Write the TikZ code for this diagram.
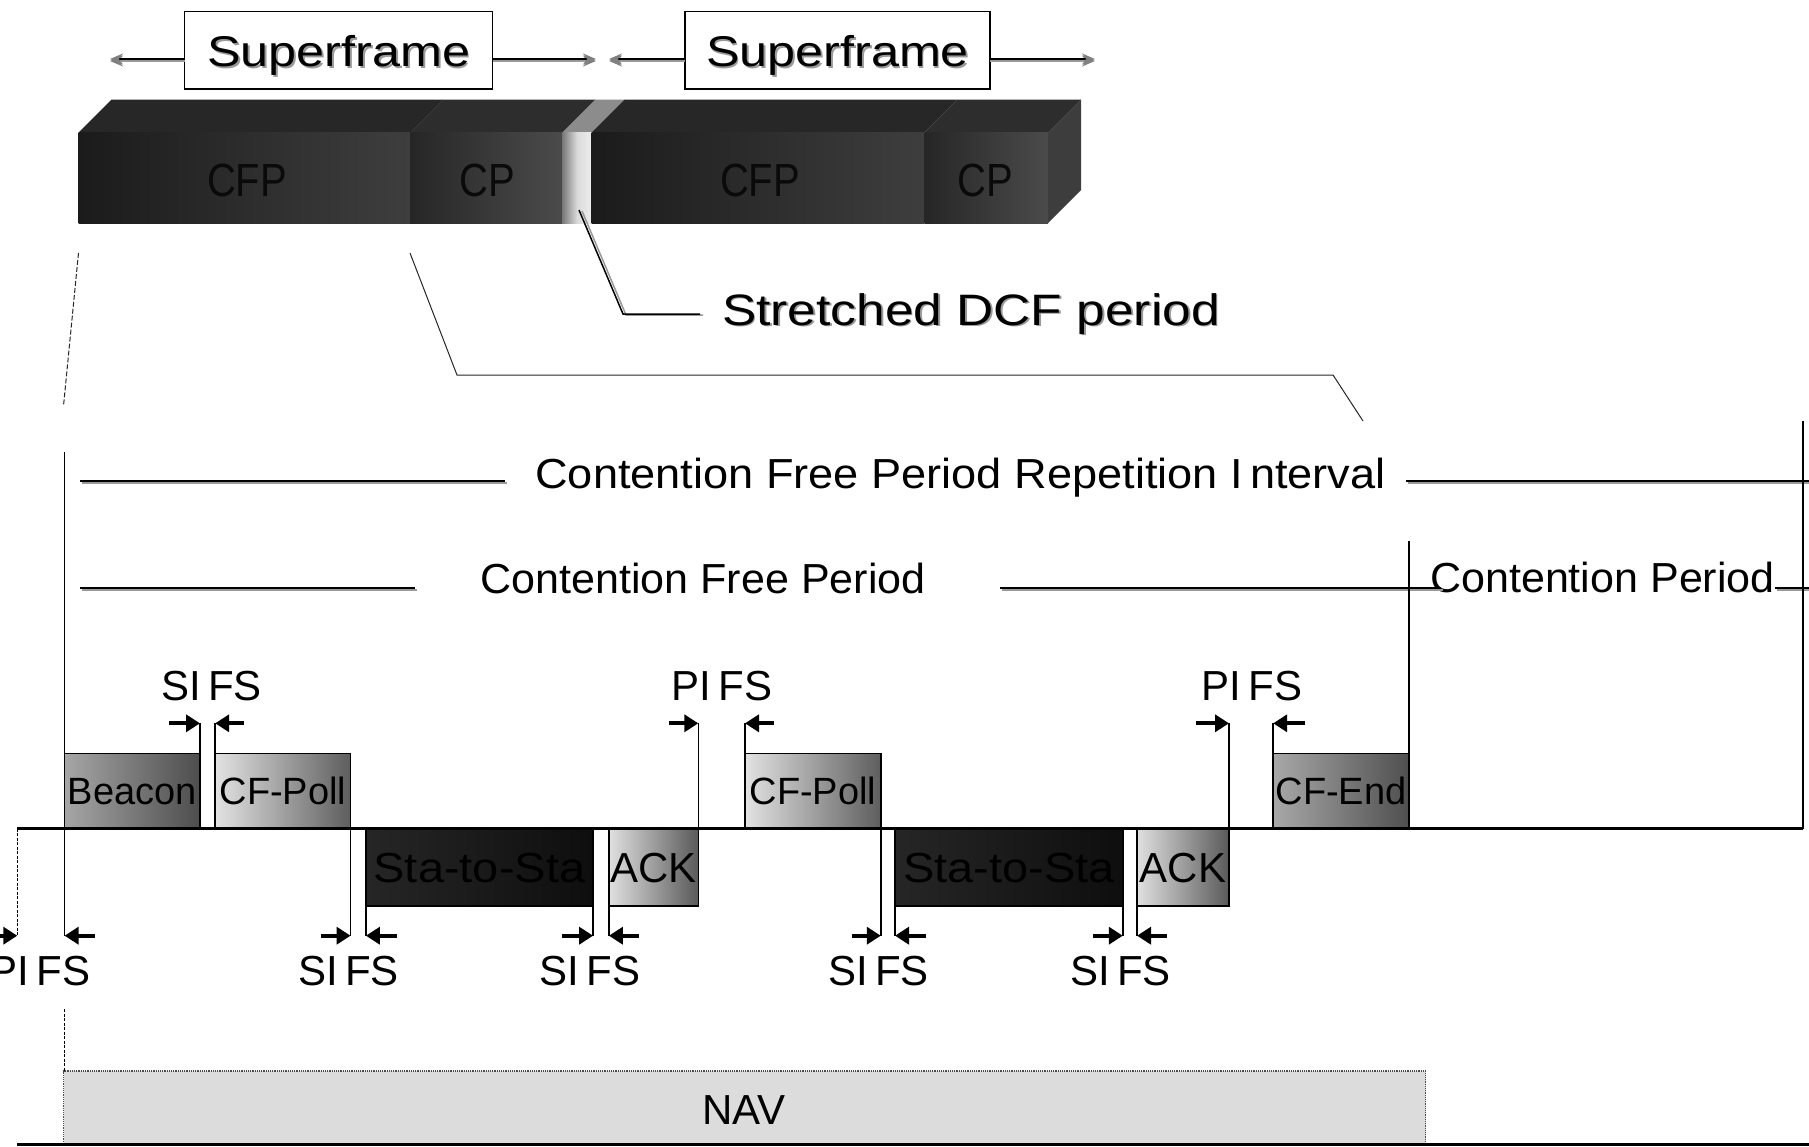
\documentclass[tikz,border=0pt]{standalone}
\usepackage{fontspec}
\setmainfont{Liberation Sans}
\newfontfamily\topfont{Liberation Sans}[FakeStretch=1.17]
\newfontfamily\blkfont{Liberation Sans}[FakeStretch=0.86]
\newfontfamily\widefont{Liberation Sans}[FakeStretch=1.12]
\newfontfamily\lblwide{Liberation Sans}[FakeStretch=1.075]
\newfontfamily\lblmid{Liberation Sans}[FakeStretch=1.025]
\usetikzlibrary{arrows.meta}
% the wide gap that follows a capital I in the labels
\newcommand\Igap{\kern7pt}

\definecolor{barTopA}{HTML}{272727}
\definecolor{barTopB}{HTML}{2D2D2D}
\definecolor{barGapTop}{HTML}{8C8C8C}
\definecolor{barSide}{HTML}{3D3D3D}
\definecolor{cfpL}{HTML}{1B1B1B}
\definecolor{cfpR}{HTML}{3E3E3E}
\definecolor{cpL}{HTML}{262626}
\definecolor{cpR}{HTML}{4B4B4B}
\definecolor{gapL}{HTML}{7A7A7A}
\definecolor{gapR}{HTML}{ECECEC}
\definecolor{blkText}{HTML}{0A0A0A}
\definecolor{beaconL}{HTML}{A6A6A6}
\definecolor{beaconR}{HTML}{4D4D4D}
\definecolor{pollL}{HTML}{E2E2E2}
\definecolor{pollR}{HTML}{5E5E5E}
\definecolor{endL}{HTML}{A8A8A8}
\definecolor{endR}{HTML}{4F4F4F}
\definecolor{staL}{HTML}{262626}
\definecolor{staR}{HTML}{0E0E0E}
\definecolor{ackL}{HTML}{E0E0E0}
\definecolor{ackR}{HTML}{5A5A5A}
\definecolor{navFill}{HTML}{DCDCDC}
\definecolor{shadowGray}{HTML}{9A9A9A}

\begin{document}
\begin{tikzpicture}[x=1pt,y=-1pt,
  every node/.style={inner sep=0pt,outer sep=0pt},
  toptext/.style={font=\topfont\fontsize{43}{50}\selectfont,anchor=base},
  topshadow/.style={toptext,text=shadowGray},
  blktext/.style={font=\blkfont\fontsize{46.5}{52}\selectfont,anchor=base,text=blkText},
  lbl/.style={font=\fontsize{42}{48}\selectfont,anchor=base},
  sfbox/.style={draw,line width=1.5pt,fill=white,minimum height=77.3pt},
  sfarrow/.style={line width=1.5pt,-{Stealth[length=13pt,width=11pt,color=gray]},
    preaction={draw=shadowGray,line width=1.5pt,transform canvas={shift={(0pt,-2pt)}}}},
  shline/.style={line width=2pt,
    preaction={draw=shadowGray,line width=2pt,transform canvas={shift={(1.5pt,-2pt)}}}},
  leader/.style={line width=1.5pt,
    preaction={draw=shadowGray,line width=1.5pt,transform canvas={shift={(3pt,-1pt)}}}},
  guide/.style={line width=1pt,black!85},
  fine dash/.style={line width=1.2pt,dash pattern=on 3pt off 1.5pt},
  mark line/.style={line width=1.5pt},
  pkt/.style={draw,line width=1.5pt,text=black,font=\fontsize{38}{44}\selectfont,
    text height=27pt,text depth=0pt},
  upper/.style={pkt,minimum height=75.2pt},
  lower/.style={pkt,minimum height=77.5pt,font=\fontsize{42}{48}\selectfont,text height=30pt},
  gaparrow/.style={line width=4pt,-{Triangle[length=14pt,width=17pt]}},
  timeline/.style={line width=3pt}
]
\useasboundingbox (0,0) rectangle (1809,1146);

% ---------------- superframe bar (oblique box) ----------------
\fill[barTopA]   (78.5,132.7) -- (111.5,99.7) -- (443,99.7) -- (410,132.7) -- cycle;
\fill[barTopB]   (410,132.7) -- (443,99.7) -- (595.5,99.7) -- (562.5,132.7) -- cycle;
\fill[barGapTop] (562.5,132.7) -- (595.5,99.7) -- (624.5,99.7) -- (591.5,132.7) -- cycle;
\fill[barTopA]   (591.5,132.7) -- (624.5,99.7) -- (957.5,99.7) -- (924.5,132.7) -- cycle;
\fill[barTopB]   (924.5,132.7) -- (957.5,99.7) -- (1081,99.7) -- (1048,132.7) -- cycle;
\fill[barSide]   (1048,132.7) -- (1081,99.7) -- (1081,190) -- (1048,223) -- cycle;
\shade[left color=cfpL,right color=cfpR] (78.5,132.7) rectangle (410,223);
\shade[left color=cpL,right color=cpR]   (410,132.7) rectangle (562.5,223);
\shade[left color=gapL,right color=gapR,middle color=gapR!85!gapL] (562.5,132.7) rectangle (591.5,223);
\shade[left color=cfpL,right color=cfpR] (591.5,132.7) rectangle (924.5,223);
\shade[left color=cpL,right color=cpR]   (924.5,132.7) rectangle (1048,223);

\node[blktext] (cfpA) at (247,196.7) {CFP};
\node[blktext] (cpA)  at (487,196.7) {CP};
\node[blktext] (cfpB) at (760,196.7) {CFP};
\node[blktext] (cpB)  at (985,196.7) {CP};

% ---------------- superframe labels ----------------
\node[sfbox,minimum width=308pt] (sfA) at (338.6,50.2) {};
\node[sfbox,minimum width=305pt] (sfB) at (837.5,50.2) {};
\node[topshadow] (sfAs) at (340.5,68.5) {Superframe};
\node[toptext]   (sfAt) at (338.6,66.7) {Superframe};
\node[topshadow] (sfBs) at (839.4,68.5) {Superframe};
\node[toptext]   (sfBt) at (837.5,66.7) {Superframe};

\coordinate (sfAl) at (110,59);
\coordinate (sfAr) at (596,59);
\coordinate (sfBl) at (609,59);
\coordinate (sfBr) at (1095,59);
\draw[sfarrow] (sfA.west |- sfAl) -- (sfAl);
\draw[sfarrow] (sfA.east |- sfAr) -- (sfAr);
\draw[sfarrow] (sfB.west |- sfBl) -- (sfBl);
\draw[sfarrow] (sfB.east |- sfBr) -- (sfBr);

% ---------------- stretched DCF period callout ----------------
\coordinate (dcfA) at (579,210);
\coordinate (dcfB) at (623,314);
\coordinate (dcfC) at (700,314);
\draw[leader] (dcfA) -- (dcfB) -- (dcfC);
\node[topshadow,anchor=base west,font=\topfont\fontsize{44}{50}\selectfont] (dcfs) at (723.8,326.8) {Stretched DCF period};
\node[toptext,anchor=base west,font=\topfont\fontsize{44}{50}\selectfont] (dcft) at (722,325) {Stretched DCF period};

% ---------------- zoom guides from the bar ----------------
\coordinate (gLa) at (78.5,253);
\coordinate (gLb) at (63.5,406);
\coordinate (gRa) at (410,253);
\coordinate (gRb) at (457,375);
\coordinate (gRc) at (1333,375);
\coordinate (gRd) at (1363,421);
\draw[guide,dash pattern=on 5pt off 2pt] (gLa) -- (gLb);
\draw[guide] (gRa) -- (gRb) -- (gRc) -- (gRd);

% ---------------- period rows ----------------
\node[lbl,font=\lblwide\fontsize{42}{48}\selectfont] (cfpri) at (960.5,488.3)
  {Contention Free Period Repetition I\Igap nterval};
\node[lbl,font=\lblmid\fontsize{42}{48}\selectfont] (cfpLbl) at (703,593.3) {Contention Free Period};
\node[lbl,font=\lblmid\fontsize{42}{48}\selectfont] (cpLbl)  at (1602.5,592.7) {Contention Period};

\coordinate (r1a) at (80,481);   \coordinate (r1b) at (505,481);
\coordinate (r1c) at (1406,481); \coordinate (r1d) at (1809,481);
\coordinate (r2a) at (80,588);   \coordinate (r2b) at (415,588);
\coordinate (r2c) at (1000,588); \coordinate (r2d) at (1441,588);
\coordinate (r2e) at (1775,588); \coordinate (r2f) at (1809,588);
\draw[shline] (r1a) -- (r1b);
\draw[shline] (r1c) -- (r1d);
\draw[shline] (r2a) -- (r2b);
\draw[shline] (r2c) -- (r2d);
\draw[shline] (r2e) -- (r2f);

% ---------------- frames on the medium ----------------
\coordinate (lineL) at (17.3,828.5);
\coordinate (lineR) at (1803,828.5);
\coordinate (topY) at (0,723.3);
\coordinate (botY) at (0,935.7);

\node[upper,minimum width=135.4pt,left color=beaconL,right color=beaconR] (beacon) at (132.3,790.9) {Beacon};
\node[upper,minimum width=135.4pt,left color=pollL,right color=pollR] (pollA) at (282.9,790.9) {CF-Poll};
\node[upper,minimum width=135.8pt,left color=pollL,right color=pollR] (pollB) at (812.9,790.9) {CF-Poll};
\node[upper,minimum width=135.8pt,left color=endL,right color=endR] (cfend) at (1341.1,790.9) {CF-End};
\node[lower,minimum width=227.2pt,left color=staL,right color=staR,font=\widefont\fontsize{42}{48}\selectfont] (staA) at (479.5,867.2) {Sta-to-Sta};
\node[lower,minimum width=89.4pt,left color=ackL,right color=ackR] (ackA) at (653.6,867.2) {ACK};
\node[lower,minimum width=227.8pt,left color=staL,right color=staR,font=\widefont\fontsize{42}{48}\selectfont] (staB) at (1008.9,867.2) {Sta-to-Sta};
\node[lower,minimum width=92pt,left color=ackL,right color=ackR] (ackB) at (1183,867.2) {ACK};

\draw[timeline] (lineL) -- (lineR);

% period boundaries
\coordinate (cfpStart) at (64.6,452);
\coordinate (repEnd) at (1803,421);
\draw[mark line] (cfpStart) -- (beacon.north west |- botY);
\draw[mark line] (repEnd) -- (lineR);
\draw[mark line] (cfend.north east) -- ++(0,-212);
\draw[fine dash] (lineL) -- (lineL |- botY);

% interframe space markers above the medium
\draw[mark line] (beacon.north east) -- (beacon.north east |- topY);
\draw[mark line] (pollA.north west) -- (pollA.north west |- topY);
\draw[mark line] (ackA.north east) -- (ackA.north east |- topY);
\draw[mark line] (pollB.north west) -- (pollB.north west |- topY);
\draw[mark line] (ackB.north east) -- (ackB.north east |- topY);
\draw[mark line] (cfend.north west) -- (cfend.north west |- topY);

% interframe space markers below the medium
\draw[mark line] (pollA.south east) -- (pollA.south east |- botY);
\draw[mark line] (staA.south west) -- (staA.south west |- botY);
\draw[mark line] (staA.south east) -- (staA.south east |- botY);
\draw[mark line] (ackA.south west) -- (ackA.south west |- botY);
\draw[mark line] (pollB.south east) -- (pollB.south east |- botY);
\draw[mark line] (staB.south west) -- (staB.south west |- botY);
\draw[mark line] (staB.south east) -- (staB.south east |- botY);
\draw[mark line] (ackB.south west) -- (ackB.south west |- botY);

% arrows pointing at each gap
\draw[gaparrow] ([xshift=-31pt]beacon.north east |- topY) -- (beacon.north east |- topY);
\draw[gaparrow] ([xshift=29pt]pollA.north west |- topY) -- (pollA.north west |- topY);
\draw[gaparrow] ([xshift=-29pt]ackA.north east |- topY) -- (ackA.north east |- topY);
\draw[gaparrow] ([xshift=29pt]pollB.north west |- topY) -- (pollB.north west |- topY);
\draw[gaparrow] ([xshift=-33pt]ackB.north east |- topY) -- (ackB.north east |- topY);
\draw[gaparrow] ([xshift=32pt]cfend.north west |- topY) -- (cfend.north west |- topY);

\draw[gaparrow] ([xshift=-30pt]lineL |- botY) -- (lineL |- botY);
\draw[gaparrow] ([xshift=30pt]beacon.north west |- botY) -- (beacon.north west |- botY);
\draw[gaparrow] ([xshift=-30pt]pollA.south east |- botY) -- (pollA.south east |- botY);
\draw[gaparrow] ([xshift=31pt]staA.south west |- botY) -- (staA.south west |- botY);
\draw[gaparrow] ([xshift=-31pt]staA.south east |- botY) -- (staA.south east |- botY);
\draw[gaparrow] ([xshift=30pt]ackA.south west |- botY) -- (ackA.south west |- botY);
\draw[gaparrow] ([xshift=-29pt]pollB.south east |- botY) -- (pollB.south east |- botY);
\draw[gaparrow] ([xshift=31pt]staB.south west |- botY) -- (staB.south west |- botY);
\draw[gaparrow] ([xshift=-30pt]staB.south east |- botY) -- (staB.south east |- botY);
\draw[gaparrow] ([xshift=30pt]ackB.south west |- botY) -- (ackB.south west |- botY);

% gap labels
\node[lbl] (sifsT)  at (211.8,700) {SI\Igap FS};
\node[lbl] (pifsT1) at (722,700)   {PI\Igap FS};
\node[lbl] (pifsT2) at (1252,700)  {PI\Igap FS};
\node[lbl] (pifsB)  at (40,985)    {PI\Igap FS};
\node[lbl] (sifsB1) at (348.7,985) {SI\Igap FS};
\node[lbl] (sifsB2) at (590,985)   {SI\Igap FS};
\node[lbl] (sifsB3) at (878.8,985) {SI\Igap FS};
\node[lbl] (sifsB4) at (1120.6,985){SI\Igap FS};

% ---------------- NAV ----------------
\node[draw=black!70,densely dotted,line width=1.2pt,fill=navFill,
      minimum width=1362pt,minimum height=73pt,anchor=north west] (nav) at (63.5,1071) {};
\node[lbl] (navLbl) at (744,1124) {NAV};
\coordinate (navBase) at (17,1144.5);
\coordinate (navBaseR) at (1809,1144.5);
\draw[timeline] (navBase) -- (navBaseR);
\coordinate (navMark) at (64.2,1009);
\draw[fine dash] (navMark) -- (navMark |- nav.north);
\end{tikzpicture}
\end{document}
